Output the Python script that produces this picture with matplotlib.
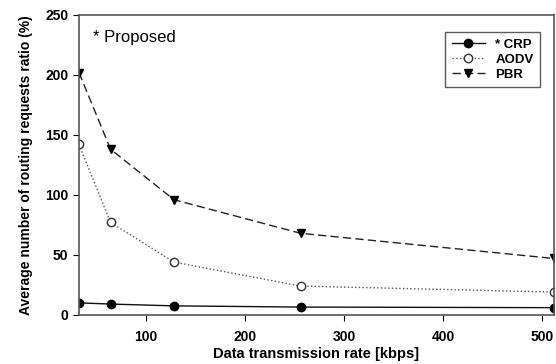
import matplotlib
matplotlib.use('Agg')
from matplotlib import pyplot as plt

plt.rcParams['font.family'] = ['Liberation Sans', 'DejaVu Sans']

rate = [32, 64, 128, 256, 512]
crp = [10, 9, 7.5, 6.5, 6]
aodv = [142, 77, 44, 24, 19]
pbr = [202, 138, 96, 68, 47]

fig = plt.figure(figsize=(5.56, 3.64), dpi=100)
ax = fig.add_axes([0.142, 0.135, 0.854, 0.824])

ax.plot(rate, crp, '-', color='#111111', lw=1.0, marker='o', ms=6,
        mfc='black', mec='black', label='* CRP')
ax.plot(rate, aodv, ':', color='#555555', lw=1.0, marker='o', ms=6,
        mfc='white', mec='#333333', label='AODV')
ax.plot(rate, pbr, '--', dashes=(6, 3), color='#222222', lw=1.0, marker='v', ms=6,
        mfc='black', mec='black', label='PBR')

ax.set_xlim(32, 512)
ax.set_ylim(0, 250)
ax.set_xticks([100, 200, 300, 400, 500])
ax.set_yticks([0, 50, 100, 150, 200, 250])
ax.tick_params(direction='out', length=4, labelsize=10, top=False, right=False)
ax.tick_params(axis='x', pad=7)
for lab in ax.get_xticklabels() + ax.get_yticklabels():
    lab.set_fontweight('bold')
for s in ax.spines.values():
    s.set_color('#555555')
    s.set_linewidth(1.2)

ax.set_xlabel('Data transmission rate [kbps]', fontsize=10.5, fontweight='bold')
ax.xaxis.set_label_coords(0.5, -0.108)
ax.set_ylabel('Average number of routing requests ratio (%)', fontsize=10, fontweight='bold')
ax.yaxis.set_label_coords(-0.097, 0.5)
ax.text(0.03, 0.95, '* Proposed', transform=ax.transAxes, fontsize=12, va='top')

leg = ax.legend(loc='upper right', bbox_to_anchor=(0.985, 0.965), fancybox=False,
                edgecolor='#333333', prop={'weight': 'bold', 'size': 9.5},
                handlelength=2.5, borderpad=0.5, labelspacing=0.2)
leg.get_frame().set_linewidth(1.0)

fig.savefig('out.png', dpi=100)
